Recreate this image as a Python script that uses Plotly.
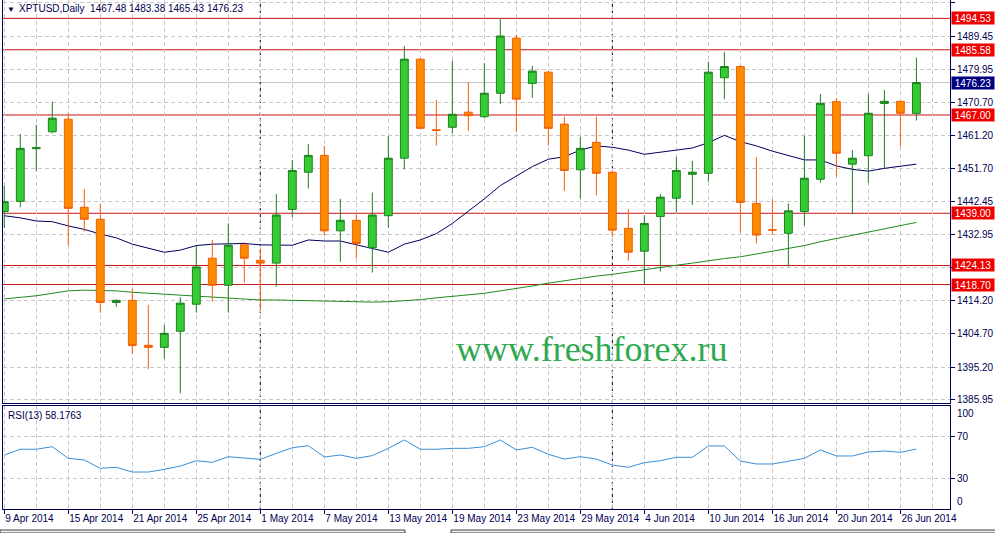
import plotly.graph_objects as go

# ---------------- data ----------------
bar_dates = (
    ["2014-04-%02d" % d for d in [9, 10, 11, 14, 15, 16, 17, 18, 21, 22, 23, 24, 25, 28, 29, 30]]
    + ["2014-05-%02d" % d for d in [1, 2, 5, 6, 7, 8, 9, 12, 13, 14, 15, 16, 19, 20, 21, 22, 23, 26, 27, 28, 29, 30]]
    + ["2014-06-%02d" % d for d in [2, 3, 4, 5, 6, 9, 10, 11, 12, 13, 16, 17, 18, 19, 20, 23, 24, 25, 26, 27]]
)

opens = [1439.5, 1442.4, 1457.4, 1462.2, 1465.8, 1440.7, 1437.3, 1413.6, 1414.2, 1401.4,
         1400.8, 1405.4, 1413.1, 1426.2, 1418.5, 1430.0, 1425.6, 1424.8, 1440.1, 1450.7,
         1455.5, 1434.0, 1437.0, 1429.2, 1438.3, 1454.7, 1482.9, 1462.8, 1463.5, 1467.8,
         1466.5, 1473.2, 1488.9, 1476.0, 1479.2, 1464.4, 1451.4, 1459.2, 1450.7, 1434.7,
         1428.2, 1438.1, 1443.3, 1450.1, 1450.4, 1477.6, 1480.8, 1441.8, 1434.3, 1433.3,
         1439.5, 1448.7, 1470.8, 1453.0, 1455.4, 1470.3, 1470.9, 1467.48]
highs = [1446.8, 1461.6, 1464.2, 1470.8, 1467.5, 1445.9, 1441.6, 1414.4, 1417.5, 1412.9,
         1407.2, 1415.1, 1429.8, 1431.4, 1436.1, 1430.8, 1428.9, 1444.5, 1454.2, 1458.7,
         1458.2, 1443.1, 1439.0, 1444.9, 1461.0, 1486.7, 1483.2, 1471.3, 1482.5, 1476.4,
         1481.7, 1494.3, 1489.8, 1481.0, 1479.5, 1466.5, 1460.8, 1466.5, 1451.0, 1440.2,
         1438.5, 1444.5, 1455.1, 1453.9, 1482.2, 1485.0, 1481.2, 1455.0, 1443.0, 1441.8,
         1461.1, 1473.0, 1471.8, 1457.0, 1473.0, 1474.1, 1471.0, 1483.38]
lows = [1434.8, 1440.7, 1451.1, 1461.8, 1429.8, 1433.8, 1410.7, 1412.4, 1398.9, 1394.6,
        1397.6, 1387.7, 1410.7, 1413.8, 1410.7, 1419.2, 1411.4, 1418.1, 1437.9, 1446.1,
        1432.6, 1425.2, 1426.1, 1422.1, 1434.9, 1451.5, 1463.0, 1458.3, 1461.8, 1462.5,
        1466.1, 1470.1, 1462.2, 1471.9, 1458.3, 1445.4, 1443.2, 1444.1, 1432.3, 1425.5,
        1418.6, 1422.4, 1439.3, 1441.4, 1448.0, 1471.5, 1433.5, 1430.4, 1432.8, 1423.8,
        1435.5, 1447.7, 1449.4, 1438.8, 1447.7, 1451.8, 1458.0, 1465.43]
closes = [1442.3, 1457.5, 1457.7, 1466.1, 1440.4, 1437.3, 1413.6, 1414.2, 1401.3, 1400.8,
          1404.8, 1413.4, 1423.7, 1418.5, 1429.9, 1426.2, 1424.8, 1438.5, 1451.2, 1455.5,
          1434.0, 1437.0, 1430.4, 1438.5, 1454.7, 1482.9, 1463.2, 1462.6, 1467.2, 1466.8,
          1473.2, 1489.5, 1471.5, 1479.5, 1463.2, 1451.2, 1457.5, 1450.4, 1434.2, 1427.9,
          1436.1, 1443.6, 1451.2, 1450.7, 1479.2, 1480.8, 1442.1, 1432.8, 1434.2, 1439.7,
          1449.0, 1470.3, 1456.1, 1454.7, 1467.5, 1470.9, 1467.5, 1476.23]

ma_fast = [1438.3, 1437.7, 1436.8, 1436.6, 1435.4, 1434.4, 1433.1, 1432.0, 1430.2, 1429.0,
           1427.9, 1428.5, 1429.8, 1430.2, 1430.4, 1430.4, 1430.0, 1429.9, 1429.9, 1431.4,
           1431.1, 1431.1, 1430.0, 1429.0, 1427.9, 1430.2, 1431.4, 1433.2, 1436.1, 1439.6,
           1443.1, 1446.9, 1449.7, 1452.3, 1454.4, 1455.1, 1457.0, 1458.2, 1457.8, 1457.0,
           1455.8, 1456.4, 1456.8, 1457.6, 1459.1, 1461.2, 1459.4, 1458.2, 1456.7, 1455.4,
           1454.2, 1454.2, 1452.5, 1451.5, 1451.0, 1451.8, 1452.3, 1453.0]
ma_slow = [1414.6, 1415.0, 1415.5, 1416.2, 1416.9, 1417.1, 1417.1, 1416.9, 1416.5, 1416.2,
           1416.0, 1415.7, 1415.4, 1415.1, 1414.8, 1414.5, 1414.3, 1414.3, 1414.2, 1414.0,
           1413.9, 1413.8, 1413.7, 1413.7, 1413.8, 1414.0, 1414.4, 1414.9, 1415.3, 1415.7,
           1416.2, 1416.9, 1417.5, 1418.3, 1419.1, 1419.8, 1420.6, 1421.1, 1421.6, 1422.3,
           1422.9, 1423.6, 1424.2, 1424.8, 1425.5, 1426.1, 1426.6, 1427.4, 1428.1, 1428.8,
           1429.8, 1430.9, 1431.8, 1432.8, 1433.8, 1434.7, 1435.6, 1436.4]
rsi = [52.4, 58.0, 58.0, 60.5, 49.2, 47.6, 39.5, 40.5, 35.9, 35.9,
       38.5, 41.7, 46.9, 45.3, 50.8, 49.2, 48.2, 54.0, 59.5, 61.5,
       50.5, 52.4, 49.2, 51.8, 58.9, 67.0, 58.0, 58.0, 58.9, 58.9,
       60.5, 67.0, 57.3, 59.9, 53.1, 48.5, 50.8, 48.5, 42.7, 40.5,
       45.0, 46.9, 50.2, 50.2, 61.2, 61.2, 46.6, 43.7, 43.7, 46.3,
       49.2, 57.3, 51.5, 51.5, 55.3, 56.3, 55.0, 58.18]

tick_labels = ["9 Apr 2014", "15 Apr 2014", "21 Apr 2014", "25 Apr 2014", "1 May 2014",
               "7 May 2014", "13 May 2014", "19 May 2014", "23 May 2014", "29 May 2014",
               "4 Jun 2014", "10 Jun 2014", "16 Jun 2014", "20 Jun 2014", "26 Jun 2014"]
price_ticks = [1498.95, 1489.45, 1479.95, 1470.70, 1461.20, 1451.70, 1442.45, 1432.95,
               1423.45, 1414.20, 1404.70, 1395.20, 1385.95]
price_tick_text = ["1498.95", "1489.45", "1479.95", "1470.70", "1461.20", "1451.70", "1442.45",
                   "1432.95", "", "1414.20", "1404.70", "1395.20", "1385.95"]
level_lines = [1494.53, 1485.58, 1467.00, 1439.00, 1424.13, 1418.70]
bid_price = 1476.23
separator_dates = ["2014-05-01", "2014-06-02"]
ohlc_title = "XPTUSD,Daily  1467.48 1483.38 1465.43 1476.23"
rsi_title = "RSI(13) 58.1763"

# ---------------- figure ----------------
idx = list(range(len(bar_dates)))
tick_idx = list(range(0, len(bar_dates), 4))[:len(tick_labels)]
sep_idx = [bar_dates.index(d) for d in separator_dates]

NAVY = "#000050"
GRID = "#c8c8c8"
FONT = "Liberation Sans"

fig = go.Figure()
fig.add_trace(go.Scatter(x=idx, y=ma_fast, mode="lines", line=dict(color="#000060", width=1),
                         xaxis="x", yaxis="y", hoverinfo="skip", showlegend=False))
fig.add_trace(go.Scatter(x=idx, y=ma_slow, mode="lines", line=dict(color="#1f8a1f", width=1),
                         xaxis="x", yaxis="y", hoverinfo="skip", showlegend=False))
fig.add_trace(go.Candlestick(
    x=idx, open=opens, high=highs, low=lows, close=closes,
    increasing=dict(line=dict(color="#1f7f1f", width=1), fillcolor="#33cc33"),
    decreasing=dict(line=dict(color="#f0600a", width=1), fillcolor="#ff8c00"),
    whiskerwidth=0, xaxis="x", yaxis="y3", showlegend=False, hoverinfo="skip"))
fig.add_trace(go.Scatter(x=idx, y=rsi, mode="lines", line=dict(color="#3a8fd8", width=1),
                         xaxis="x2", yaxis="y2", hoverinfo="skip", showlegend=False))

yr = [1384.95, 1499.76]
main_dom = [(509 - 403) / 509, 1]
rsi_dom = [0, 103 / 509]
xr = [-0.08, 59.1]

minor_grid = dict(dtick=2, tick0=0, showgrid=True, gridcolor=GRID, griddash="4px,3px",
                  ticklen=0, gridwidth=1)

fig.update_layout(
    width=995, height=533,
    margin=dict(l=3, r=45, t=0, b=24, autoexpand=False),
    paper_bgcolor="white", plot_bgcolor="white",
    font=dict(family=FONT, size=10, color=NAVY),
    showlegend=False,
    xaxis=dict(domain=[0, 1], anchor="y", range=xr, tickmode="array", tickvals=tick_idx,
               showticklabels=False, ticks="", showgrid=True, gridcolor=GRID,
               griddash="4px,3px", minor=minor_grid, showline=True, mirror=True,
               linecolor=NAVY, linewidth=1, zeroline=False, rangeslider=dict(visible=False),
               automargin=False),
    yaxis=dict(domain=main_dom, anchor="x", side="right", range=yr, tickmode="array",
               tickvals=price_ticks, ticktext=price_tick_text, ticks="outside", ticklen=4,
               tickcolor=NAVY, showgrid=True, gridcolor=GRID, griddash="4px,3px",
               showline=True, mirror=True, linecolor=NAVY, linewidth=1, zeroline=False,
               tickfont=dict(family=FONT, size=10, color=NAVY), automargin=False),
    yaxis3=dict(overlaying="y", anchor="x", side="right", range=yr, visible=False,
                showgrid=False, zeroline=False, automargin=False),
    xaxis2=dict(domain=[0, 1], anchor="y2", matches="x", range=xr, tickmode="array",
                tickvals=tick_idx, ticktext=tick_labels, ticks="outside", ticklen=4,
                tickcolor=NAVY, ticklabelposition="outside right", tickangle=0,
                tickfont=dict(family=FONT, size=10, color=NAVY),
                showgrid=True, gridcolor=GRID, griddash="4px,3px", minor=minor_grid,
                showline=True, mirror=True, linecolor=NAVY, linewidth=1, zeroline=False,
                automargin=False),
    yaxis2=dict(domain=rsi_dom, anchor="x2", side="right", range=[0, 100], tickmode="array",
                tickvals=[30, 70], ticktext=["30", "70"], ticks="outside", ticklen=4,
                tickcolor=NAVY, showgrid=True, gridcolor=GRID, griddash="4px,3px",
                showline=True, mirror=True, linecolor=NAVY, linewidth=1, zeroline=False,
                tickfont=dict(family=FONT, size=10, color=NAVY), automargin=False),
)

shapes = []
# bid line
shapes.append(dict(type="line", xref="x domain", x0=0, x1=1, yref="y", y0=bid_price, y1=bid_price,
                   line=dict(color="#c4c4c4", width=1), layer="below"))
# horizontal level lines
for lv in level_lines:
    shapes.append(dict(type="line", xref="x domain", x0=0, x1=1, yref="y", y0=lv, y1=lv,
                       line=dict(color="#c81414", width=1), layer="below"))
# period separators
for s in sep_idx:
    for yref in ["y domain", "y2 domain"]:
        shapes.append(dict(type="line", xref="x", x0=s, x1=s, yref=yref, y0=0, y1=1,
                           line=dict(color="#000040", width=1, dash="3px,3px"), layer="below"))
# bottom tab bar
shapes.append(dict(type="rect", xref="paper", yref="paper", x0=-3 / 947, x1=402 / 947,
                   y0=-(533 - 509) / 509, y1=-(530 - 509) / 509,
                   fillcolor="#f0f0f0", line=dict(color="#404040", width=1)))
shapes.append(dict(type="rect", xref="paper", yref="paper", x0=448 / 947, x1=995 / 947,
                   y0=-(533 - 509) / 509, y1=-(530 - 509) / 509,
                   fillcolor="#f0f0f0", line=dict(color="#404040", width=1)))
fig.update_layout(shapes=shapes)

ann = []
for lv in level_lines:
    ann.append(dict(xref="paper", x=1, xanchor="left", xshift=1, yref="y", y=lv,
                    text="%.2f" % lv, showarrow=False, bgcolor="#ee0000",
                    font=dict(family=FONT, size=10, color="white"),
                    width=42, height=12, borderpad=0, align="center"))
ann.append(dict(xref="paper", x=1, xanchor="left", xshift=1, yref="y", y=bid_price,
                text="%.2f" % bid_price, showarrow=False, bgcolor="#000080",
                font=dict(family=FONT, size=10, color="white"),
                width=42, height=12, borderpad=0, align="center"))
# RSI 100 / 0 labels
ann.append(dict(xref="paper", x=1, xanchor="left", xshift=5, yref="y2", y=100, yanchor="top",
                text="100", showarrow=False, font=dict(family=FONT, size=10, color=NAVY)))
ann.append(dict(xref="paper", x=1, xanchor="left", xshift=5, yref="y2", y=0, yanchor="bottom",
                text="0", showarrow=False, font=dict(family=FONT, size=10, color=NAVY)))
# titles
ann.append(dict(xref="paper", x=0, xanchor="left", xshift=2, yref="paper", y=1, yanchor="top",
                yshift=-3, text="\u25bc", showarrow=False,
                font=dict(family=FONT, size=8, color=NAVY)))
ann.append(dict(xref="paper", x=0, xanchor="left", xshift=14, yref="paper", y=1, yanchor="top",
                yshift=-1, text=ohlc_title, showarrow=False,
                font=dict(family=FONT, size=10, color=NAVY)))
ann.append(dict(xref="paper", x=0, xanchor="left", xshift=3, yref="y2 domain", y=1,
                yanchor="top", yshift=-2, text=rsi_title, showarrow=False,
                font=dict(family=FONT, size=10, color=NAVY)))
# watermark
ann.append(dict(xref="paper", x=(592 - 3) / 947, yref="paper", y=(509 - 349) / 509,
                xanchor="center", yanchor="middle", text="www.freshforex.ru", showarrow=False,
                font=dict(family="Liberation Serif", size=36, color="#2ea94f")))
fig.update_layout(annotations=ann)

fig.write_html("out.html", config={"displayModeBar": False},
               post_script="document.body.style.margin='0';")
